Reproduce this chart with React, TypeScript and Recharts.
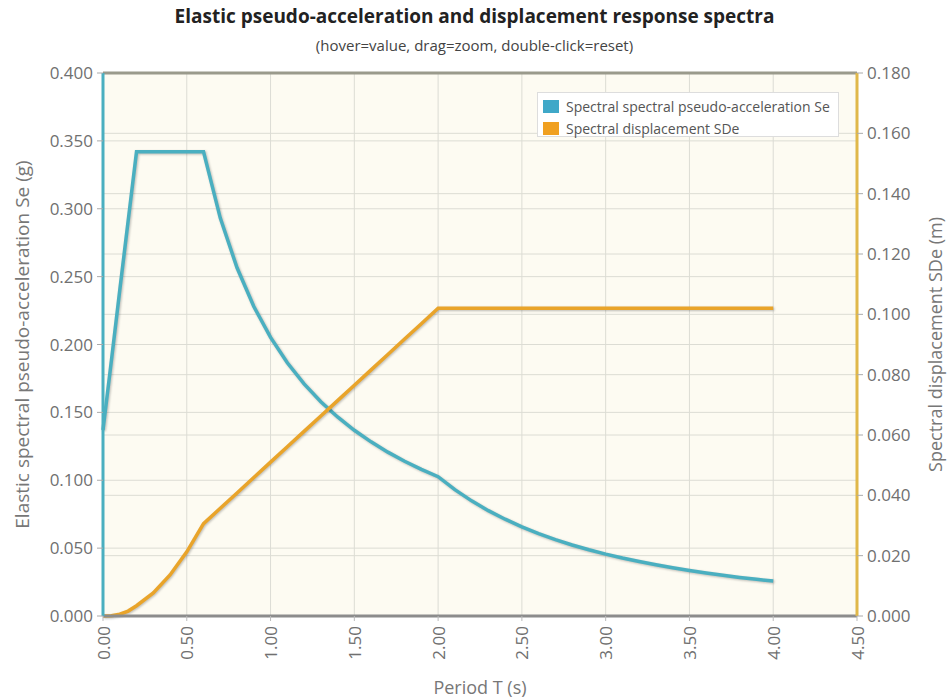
import React from 'react';
import {
  LineChart,
  Line,
  XAxis,
  YAxis,
  CartesianGrid,
  ReferenceLine,
} from 'recharts';

// Period T (s)
const periods = [
  0, 0.05, 0.1, 0.15, 0.2, 0.3, 0.4, 0.5, 0.6, 0.7, 0.8, 0.9, 1.0, 1.1, 1.2, 1.3,
  1.4, 1.5, 1.6, 1.7, 1.8, 1.9, 2.0, 2.1, 2.2, 2.3, 2.4, 2.5, 2.6, 2.7, 2.8, 2.9,
  3.0, 3.1, 3.2, 3.3, 3.4, 3.5, 3.6, 3.7, 3.8, 3.9, 4.0,
];

// Elastic spectral pseudo-acceleration Se (g)
const seValues = [
  0.137, 0.188, 0.24, 0.291, 0.342, 0.342, 0.342, 0.342, 0.342, 0.2931, 0.2565,
  0.228, 0.2052, 0.1865, 0.171, 0.1578, 0.1466, 0.1368, 0.1283, 0.1207, 0.114,
  0.108, 0.1026, 0.0931, 0.0848, 0.0776, 0.0713, 0.0657, 0.0607, 0.0563, 0.0523,
  0.0488, 0.0456, 0.0427, 0.0401, 0.0377, 0.0355, 0.0335, 0.0317, 0.03, 0.0284,
  0.027, 0.0257,
];

// Spectral displacement SDe (m)
const sdeValues = [
  0, 0.000117, 0.000596, 0.001627, 0.0034, 0.00765, 0.0136, 0.02125, 0.0306,
  0.0357, 0.0408, 0.0459, 0.051, 0.0561, 0.0612, 0.0663, 0.0714, 0.0765, 0.0816,
  0.0867, 0.0918, 0.0969, 0.102, 0.102, 0.102, 0.102, 0.102, 0.102, 0.102, 0.102,
  0.102, 0.102, 0.102, 0.102, 0.102, 0.102, 0.102, 0.102, 0.102, 0.102, 0.102,
  0.102, 0.102,
];

const periodTicks = [0, 0.5, 1, 1.5, 2, 2.5, 3, 3.5, 4, 4.5];
const seTicks = [0, 0.05, 0.1, 0.15, 0.2, 0.25, 0.3, 0.35, 0.4];
const sdeTicks = [0, 0.02, 0.04, 0.06, 0.08, 0.1, 0.12, 0.14, 0.16, 0.18];

const SE_NAME = 'Spectral spectral pseudo-acceleration Se';
const SDE_NAME = 'Spectral displacement SDe';

const rows = periods.map((t, i) => ({ t, se: seValues[i], sde: sdeValues[i] }));

const TEAL = '#4aafc0';
const GOLD = '#e9a42a';
const FONT = '"Open Sans", sans-serif';
const TICK_COLOR = '#707070';
const TITLE_COLOR = '#777';

const legendItems = [
  { name: SE_NAME, color: '#3fa8c8' },
  { name: SDE_NAME, color: '#f0a020' },
];

const PeriodTick = (props: any) => {
  const { x, y, payload } = props;
  const ty = y + 3;
  return (
    <text
      x={x}
      y={ty}
      transform={`rotate(-90 ${x} ${ty})`}
      textAnchor="end"
      dominantBaseline="central"
      fontFamily={FONT}
      fontSize={17}
      fill={TICK_COLOR}
    >
      {Number(payload.value).toFixed(2)}
    </text>
  );
};

const LegendBox = () => (
  <div
    style={{
      position: 'absolute',
      left: 537,
      top: 92,
      width: 302,
      height: 45,
      boxSizing: 'border-box',
      border: '1px solid #ddd',
      background: '#fff',
      padding: '4px 5px',
      fontFamily: FONT,
      fontSize: 14,
      color: '#555',
    }}
  >
    {legendItems.map((item) => (
      <div key={item.name} style={{ display: 'flex', alignItems: 'center', height: 18, marginBottom: 4, whiteSpace: 'nowrap' }}>
        <span
          style={{
            display: 'inline-block',
            width: 16,
            height: 13,
            background: item.color,
            marginRight: 7,
            flex: 'none',
          }}
        />
        <span>{item.name}</span>
      </div>
    ))}
  </div>
);

export default function App() {
  return (
    <div style={{ position: 'absolute', left: 0, top: 0, width: 949, height: 700, background: '#fff' }}>
      <div
        style={{
          position: 'absolute',
          left: 0,
          top: 3,
          width: 949,
          textAlign: 'center',
          fontFamily: FONT,
          fontWeight: 700,
          fontSize: 19,
          color: '#222',
        }}
      >
        Elastic pseudo-acceleration and displacement response spectra
      </div>
      <div
        style={{
          position: 'absolute',
          left: 0,
          top: 35,
          width: 949,
          textAlign: 'center',
          fontFamily: FONT,
          fontSize: 15,
          color: '#444',
        }}
      >
        (hover=value, drag=zoom, double-click=reset)
      </div>
      <LineChart
        width={949}
        height={700}
        data={rows}
        margin={{ top: 73, right: 0, bottom: 0, left: 0 }}
      >
        <CartesianGrid
          yAxisId="se"
          fill="#fdfbf2"
          stroke="#dcdcd4"
          horizontal={true}
          vertical={true}
        />
        <CartesianGrid yAxisId="sde" stroke="#dcdcd4" horizontal={true} vertical={false} />
        <XAxis
          dataKey="t"
          type="number"
          domain={[0, 4.5]}
          ticks={periodTicks}
          interval={0}
          height={84}
          axisLine={{ stroke: '#8c8c8c', strokeWidth: 3 }}
          tickLine={{ stroke: '#bbb' }}
          tickSize={5}
          tick={<PeriodTick />}
          label={{
            value: 'Period T (s)',
            position: 'insideBottom',
            offset: 6,
            style: { fontFamily: FONT, fontSize: 18, fill: TITLE_COLOR },
          }}
        />
        <YAxis
          yAxisId="se"
          orientation="left"
          domain={[0, 0.4]}
          ticks={seTicks}
          interval={0}
          width={103}
          axisLine={{ stroke: TEAL, strokeWidth: 3 }}
          tickLine={{ stroke: '#aaa' }}
          tickSize={6}
          tickMargin={4}
          tickFormatter={(v: number) => v.toFixed(3)}
          tick={{ fontFamily: FONT, fontSize: 17, fill: TICK_COLOR }}
          label={{
            value: 'Elastic spectral pseudo-acceleration Se (g)',
            angle: -90,
            position: 'insideLeft',
            offset: 22,
            style: { fontFamily: FONT, fontSize: 19, fill: TITLE_COLOR, textAnchor: 'middle' },
          }}
        />
        <YAxis
          yAxisId="sde"
          orientation="right"
          domain={[0, 0.18]}
          ticks={sdeTicks}
          interval={0}
          width={92}
          axisLine={{ stroke: '#e0b84a', strokeWidth: 3 }}
          tickLine={{ stroke: '#aaa' }}
          tickSize={6}
          tickMargin={4}
          tickFormatter={(v: number) => v.toFixed(3)}
          tick={{ fontFamily: FONT, fontSize: 17, fill: TICK_COLOR }}
          label={{
            value: 'Spectral displacement SDe (m)',
            angle: -90,
            position: 'insideRight',
            offset: 13,
            style: { fontFamily: FONT, fontSize: 18, fill: TITLE_COLOR, textAnchor: 'middle' },
          }}
        />
        <ReferenceLine yAxisId="se" y={0.4} stroke="#9a9a8c" strokeWidth={3} />
        <Line
          yAxisId="se"
          dataKey="se"
          name={SE_NAME}
          type="linear"
          stroke={TEAL}
          strokeWidth={3.5}
          dot={false}
          isAnimationActive={false}
          style={{ filter: 'drop-shadow(1px 1px 1px rgba(0,0,0,0.25))' }}
        />
        <Line
          yAxisId="sde"
          dataKey="sde"
          name={SDE_NAME}
          type="linear"
          stroke={GOLD}
          strokeWidth={3.5}
          dot={false}
          isAnimationActive={false}
          style={{ filter: 'drop-shadow(1px 1px 1px rgba(0,0,0,0.25))' }}
        />
      </LineChart>
      <LegendBox />
    </div>
  );
}
